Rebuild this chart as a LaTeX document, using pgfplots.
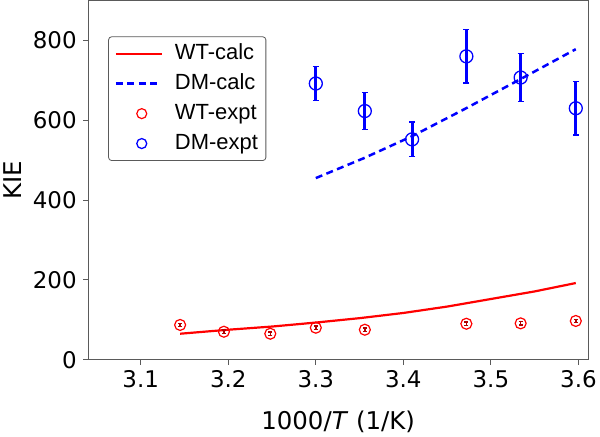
\documentclass[border=0pt]{standalone}
\usepackage{fontspec}
\setmainfont{Liberation Sans}
\newfontfamily\tickfont{DejaVu Sans}
\usepackage{pgfplots}
\pgfplotsset{compat=1.18}

\definecolor{spine}{RGB}{90,90,90}
\pgfplotsset{markleg/.style={legend image code/.code={%
    \draw[##1,mark repeat=2,mark phase=2,mark size=5pt] plot coordinates {(0pt,0pt)(26pt,0pt)(52pt,0pt)};
    \path (56pt,0pt);}}}

\begin{document}
\begin{tikzpicture}
\begin{axis}[
    scale only axis,
    width=501pt, height=360pt,
    xmin=3.04, xmax=3.611,
    ymin=0, ymax=900,
    xtick={3.1,3.2,3.3,3.4,3.5,3.6},
    ytick={0,200,400,600,800},
    xticklabel style={/pgf/number format/fixed, /pgf/number format/precision=1, /pgf/number format/fixed zerofill},
    /pgf/number format/assume math mode=true,
    tick align=outside, tick pos=left,
    major tick length=5pt,
    axis line style={spine, line width=1pt},
    every tick/.style={spine, line width=1pt},
    ticklabel style={font=\tickfont\fontsize{23}{27}\selectfont},
    yticklabel style={xshift=-3pt},
    xticklabel style={yshift=-2pt},
    xlabel={1000/\textit{T} (1/K)},
    ylabel={KIE},
    label style={font=\tickfont\fontsize{24.5}{28}\selectfont},
    xlabel style={at={(axis description cs:0.5,-0.174)}, anchor=center},
    ylabel style={at={(axis description cs:-0.152,0.5)}, anchor=center},
    legend style={at={(axis description cs:0.04,0.9)}, anchor=north west,
        draw=spine, line width=0.8pt, rounded corners=3pt, fill=white,
        font=\fontsize{22}{25}\selectfont, row sep=8pt,
        inner xsep=6pt, inner ysep=6pt,
        nodes={inner ysep=1pt, text height=15.5pt, text depth=4.5pt}},
    legend cell align=left,
    legend image code/.code={\draw[#1] (0pt,0pt) -- (46pt,0pt); \path (56pt,0pt);},
]
\addplot[red, line width=2.2pt] coordinates {
    (3.145,65) (3.2,75) (3.25,83) (3.3,93) (3.35,104) (3.4,117)
    (3.45,133) (3.5,152) (3.55,171) (3.597,192)};
\addlegendentry{WT-calc}
\addplot[blue, line width=2.5pt, dash pattern=on 7pt off 4.5pt] coordinates {
    (3.3,455) (3.355,505) (3.41,560) (3.47,628) (3.533,702) (3.597,778)};
\addlegendentry{DM-calc}
\addplot[red, only marks, mark=o, mark size=5.5pt, line width=1.2pt, markleg,
    error bars/.cd, y dir=both, y explicit,
    error bar style={red!70!black, line width=1.5pt},
    error mark options={rotate=90, mark size=2pt, line width=1.5pt, red!70!black}]
    coordinates {
    (3.145,87) +- (0,4)
    (3.195,70) +- (0,4)
    (3.248,65) +- (0,4)
    (3.3,80) +- (0,4)
    (3.356,75) +- (0,4)
    (3.472,90) +- (0,4)
    (3.534,91) +- (0,4)
    (3.597,97) +- (0,4)};
\addlegendentry{WT-expt}
\addplot[blue, only marks, mark=o, mark size=6.5pt, line width=1.3pt, markleg,
    error bars/.cd, y dir=both, y explicit,
    error bar style={blue, line width=2.8pt},
    error mark options={rotate=90, mark size=3pt, line width=1.5pt, blue}]
    coordinates {
    (3.3,692) +- (0,43)
    (3.356,623) +- (0,46)
    (3.41,552) +- (0,43)
    (3.472,760) +- (0,67)
    (3.534,707) +- (0,60)
    (3.597,630) +- (0,67)};
\addlegendentry{DM-expt}
\end{axis}
\end{tikzpicture}
\end{document}
